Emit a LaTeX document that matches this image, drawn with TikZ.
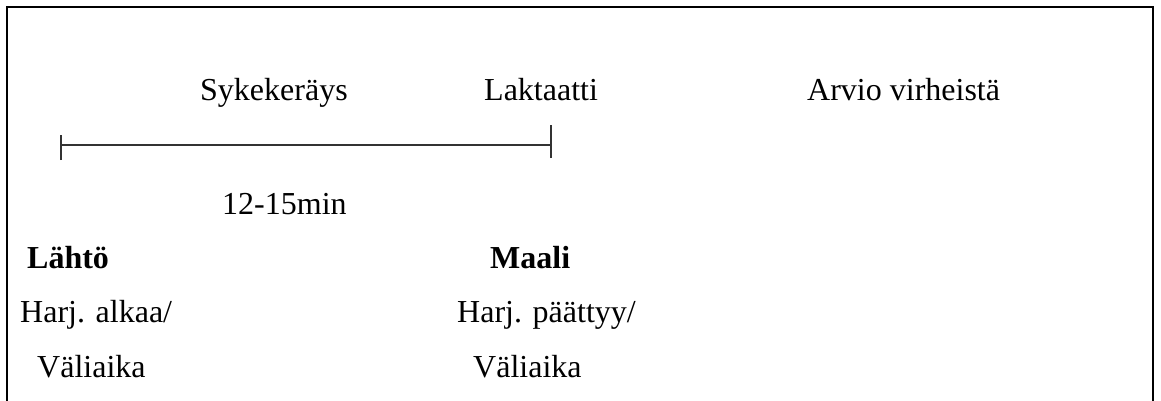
\documentclass[tikz,border=0pt]{standalone}
\usepackage{fontspec}
\setmainfont{Liberation Serif}
\begin{document}
\begin{tikzpicture}[x=1pt,y=-1pt,
  lbl/.style={anchor=base west, inner sep=0pt, font=\fontsize{32}{38}\selectfont},
  bold/.style={lbl, font=\fontsize{32}{38}\selectfont\bfseries},
  frame/.style={line width=2.6pt, black},
  span/.style={line width=2pt, black!80}]
\useasboundingbox (0,0) rectangle (1161,400);
% open frame around the timeline
\draw[frame] (7,420) -- (7,7) -- (1153,7) -- (1153,420);

% labels above the timeline
\node[lbl] (syke) at (200,100) {Sykekeräys};
\node[lbl] (lakt) at (484,100) {Laktaatti};
\node[lbl] (arvio) at (807,100) {Arvio virheistä};

% timeline with end ticks
\coordinate (start) at (61,145);
\coordinate (finish) at (551,145);
\draw[span] (start) -- (finish);
\draw[span] ([yshift=-15pt]start) -- ([yshift=10pt]start);
\draw[span] ([yshift=-13pt]finish) -- ([yshift=20pt]finish);

\node[lbl] (dur) at (222,214) {12-15min};

% start and finish descriptions
\node[bold] (lahto) at (27,268) {Lähtö};
\node[bold] (maali) at (490,268) {Maali};
\node[lbl] (alkaa) at (20,322) {Harj. alkaa/};
\node[lbl] (paattyy) at (457,322) {Harj. päättyy/};
\node[lbl] (vali1) at (37,377) {Väliaika};
\node[lbl] (vali2) at (473,377) {Väliaika};
\end{tikzpicture}
\end{document}
